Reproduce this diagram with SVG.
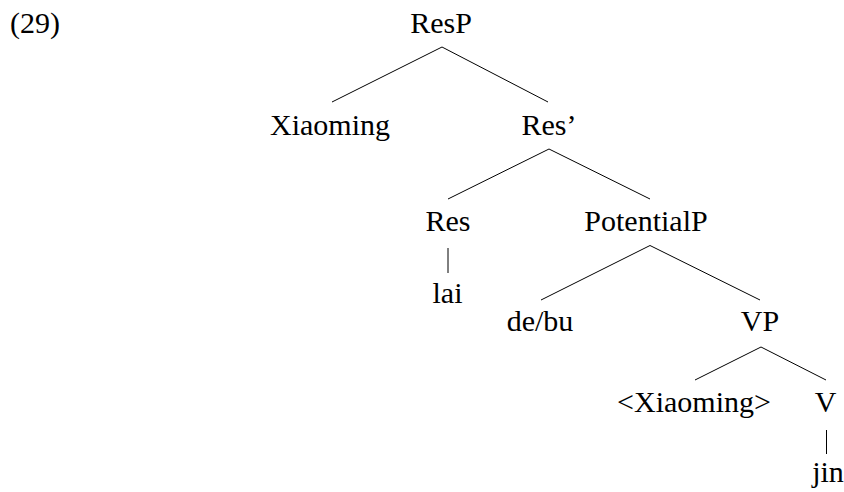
<svg xmlns="http://www.w3.org/2000/svg" width="844" height="492" viewBox="0 0 844 492">
<style>
text{font-size:30px;fill:#000;text-anchor:middle}
.edge{stroke:#000;stroke-width:1;fill:none}
</style>
<rect width="844" height="492" fill="#fff"/>
<g font-family="'Liberation Serif', 'DejaVu Serif', 'Noto Serif', serif">
<text x="10" y="32.5" style="text-anchor:start">(29)</text>
<g id="connectors">
<line class="edge" x1="442" y1="47" x2="332" y2="102"/>
<line class="edge" x1="442" y1="47" x2="548" y2="102"/>
<line class="edge" x1="549" y1="149" x2="448" y2="199"/>
<line class="edge" x1="549" y1="149" x2="650" y2="199"/>
<line class="edge" x1="448" y1="248" x2="448" y2="273"/>
<line class="edge" x1="650" y1="245.5" x2="541" y2="300"/>
<line class="edge" x1="650" y1="245.5" x2="760" y2="300"/>
<line class="edge" x1="761" y1="347" x2="695" y2="380"/>
<line class="edge" x1="761" y1="347" x2="826" y2="380"/>
<line class="edge" x1="826.5" y1="430" x2="826.5" y2="454"/>
</g>
<g id="ResP"><text x="441" y="32.5">ResP</text></g>
<g id="Xiaoming"><text x="330" y="135">Xiaoming</text></g>
<g id="ResBar"><text x="549" y="135">Res’</text></g>
<g id="Res"><text x="448" y="230.5">Res</text></g>
<g id="lai"><text x="447.5" y="303">lai</text></g>
<g id="PotentialP"><text x="646" y="230.5">PotentialP</text></g>
<g id="debu"><text x="540" y="331">de/bu</text></g>
<g id="VP"><text x="760" y="331">VP</text></g>
<g id="XiaomingTrace"><text x="694" y="412">&lt;Xiaoming&gt;</text></g>
<g id="V"><text x="825.5" y="412">V</text></g>
<g id="jin"><text x="828" y="482">jin</text></g>
</g>
</svg>
